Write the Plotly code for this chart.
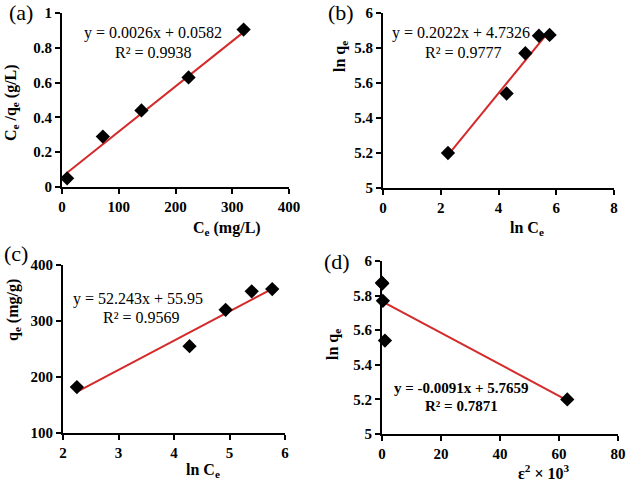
import plotly.graph_objects as go

# ---- data ----
a_ce = [9, 72, 140, 223, 320]
a_ceqe = [0.05, 0.29, 0.44, 0.63, 0.905]
a_fit_x = [9, 320]
a_fit_y = [0.082, 0.890]

b_lnce = [2.25, 4.28, 4.93, 5.40, 5.77]
b_lnqe = [5.20, 5.54, 5.77, 5.87, 5.875]
b_fit_x = [2.25, 5.77]
b_fit_y = [5.188, 5.899]

c_lnce = [2.25, 4.28, 4.93, 5.40, 5.77]
c_qe = [182, 255, 320, 353, 357]
c_fit_x = [2.25, 5.77]
c_fit_y = [173.5, 357.4]

d_eps = [0.0, 0.1, 0.3, 1.0, 62.8]
d_lnqe = [5.875, 5.87, 5.77, 5.54, 5.20]
d_fit_x = [0.0, 62.8]
d_fit_y = [5.766, 5.195]

# tick labels
a_xticks = ["0", "100", "200", "300", "400"]
a_yticks = ["0", "0.2", "0.4", "0.6", "0.8", "1"]
b_xticks = ["0", "2", "4", "6", "8"]
b_yticks = ["5", "5.2", "5.4", "5.6", "5.8", "6"]
c_xticks = ["2", "3", "4", "5", "6"]
c_yticks = ["100", "200", "300", "400"]
d_xticks = ["0", "20", "40", "60", "80"]
d_yticks = ["5", "5.2", "5.4", "5.6", "5.8", "6"]

FONT = "Liberation Serif"
RED = "#d42a2a"

fig = go.Figure()

panels = [
    (a_ce, a_ceqe, a_fit_x, a_fit_y, "x", "y"),
    (b_lnce, b_lnqe, b_fit_x, b_fit_y, "x2", "y2"),
    (c_lnce, c_qe, c_fit_x, c_fit_y, "x3", "y3"),
    (d_eps, d_lnqe, d_fit_x, d_fit_y, "x4", "y4"),
]
for px, py, fx, fy, xa, ya in panels:
    fig.add_trace(go.Scatter(x=fx, y=fy, mode="lines", line=dict(color=RED, width=2),
                             xaxis=xa, yaxis=ya, showlegend=False, cliponaxis=False))
    fig.add_trace(go.Scatter(x=px, y=py, mode="markers",
                             marker=dict(symbol="diamond", size=11, color="black"),
                             xaxis=xa, yaxis=ya, showlegend=False, cliponaxis=False))

W, H = 628, 483

def dom_x(l, r):
    return [l / W, r / W]

def dom_y(top, bot):
    return [1 - bot / H, 1 - top / H]

def axis(dom, rng, labels, anchor):
    vals = [float(t) for t in labels]
    return dict(domain=dom, range=rng, anchor=anchor, tickmode="array", tickvals=vals,
                ticktext=["<b>" + t + "</b>" for t in labels], automargin=False,
                showline=True, linecolor="black", linewidth=2, ticks="outside",
                ticklen=5, tickwidth=2, tickcolor="black", showgrid=False,
                zeroline=False, tickfont=dict(family=FONT, size=15, color="black"))

fig.update_layout(
    width=W, height=H, margin=dict(l=0, r=0, t=0, b=0, autoexpand=False),
    plot_bgcolor="white", paper_bgcolor="white",
    xaxis=axis(dom_x(62, 289), [0, 400], a_xticks, "y"),
    yaxis=axis(dom_y(13, 187), [0, 1], a_yticks, "x"),
    xaxis2=axis(dom_x(383, 614), [0, 8], b_xticks, "y2"),
    yaxis2=axis(dom_y(13, 188), [5, 6], b_yticks, "x2"),
    xaxis3=axis(dom_x(63, 285), [2, 6], c_xticks, "y3"),
    yaxis3=axis(dom_y(265, 433), [100, 400], c_yticks, "x3"),
    xaxis4=axis(dom_x(382, 618), [0, 80], d_xticks, "y4"),
    yaxis4=axis(dom_y(261, 434), [5, 6], d_yticks, "x4"),
)

def ann(text, x, y, size=15, bold=False, angle=0):
    if bold:
        text = "<b>" + text + "</b>"
    fig.add_annotation(text=text, x=x / W, y=1 - y / H, xref="paper", yref="paper",
                       showarrow=False, textangle=angle, xanchor="center", yanchor="middle",
                       font=dict(family=FONT, size=size, color="black"))

# panel labels
ann("(a)", 21, 13, size=22)
ann("(b)", 341, 13, size=22)
ann("(c)", 16, 253, size=22)
ann("(d)", 337, 261, size=22)

# axis titles
ann("C<sub>e</sub> /q<sub>e</sub> (g/L)", 11, 103, size=16, bold=True, angle=-90)
ann("C<sub>e</sub> (mg/L)", 227, 228, size=16, bold=True)
ann("ln q<sub>e</sub>", 340, 57, size=16, bold=True, angle=-90)
ann("ln C<sub>e</sub>", 527, 228, size=16, bold=True)
ann("q<sub>e</sub> (mg/g)", 13, 310, size=16, bold=True, angle=-90)
ann("ln C<sub>e</sub>", 203, 470, size=16, bold=True)
ann("ε<sup>2</sup> × 10<sup>3</sup>", 544, 472, size=16, bold=True)
ann("ln q<sub>e</sub>", 333, 345, size=16, bold=True, angle=-90)

# equations
ann("y = 0.0026x + 0.0582", 153, 33, size=16)
ann("R² = 0.9938", 153, 52, size=16)
ann("y = 0.2022x + 4.7326", 461, 33, size=16)
ann("R² = 0.9777", 463, 52, size=16)
ann("y = 52.243x + 55.95", 138, 299, size=16)
ann("R² = 0.9569", 141, 317, size=16)
ann("y = -0.0091x + 5.7659", 461, 388, size=15, bold=True)
ann("R² = 0.7871", 461, 406, size=15, bold=True)

fig.write_html("out.html", config={"displayModeBar": False},
               post_script="document.body.style.margin='0';")
